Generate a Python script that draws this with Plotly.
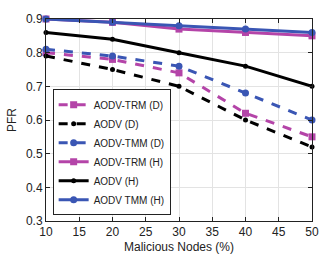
import plotly.graph_objects as go

x = [10, 20, 30, 40, 50]
trm_d = [0.80, 0.78, 0.74, 0.62, 0.55]
aodv_d = [0.79, 0.75, 0.70, 0.60, 0.52]
tmm_d = [0.81, 0.79, 0.76, 0.68, 0.60]
trm_h = [0.90, 0.89, 0.87, 0.86, 0.85]
aodv_h = [0.86, 0.84, 0.80, 0.76, 0.70]
tmm_h = [0.90, 0.89, 0.88, 0.87, 0.86]

MAG = "#b444a8"
BLU = "#3a56b4"
BLK = "#000000"

series = [
    ("AODV-TRM (D)", trm_d, MAG, "dash", "square"),
    ("AODV (D)", aodv_d, BLK, "dash", "circle"),
    ("AODV-TMM (D)", tmm_d, BLU, "dash", "circle"),
    ("AODV-TRM (H)", trm_h, MAG, "solid", "square"),
    ("AODV (H)", aodv_h, BLK, "solid", "circle"),
    ("AODV TMM (H)", tmm_h, BLU, "solid", "circle"),
]

fig = go.Figure()
for name, y, c, d, sym in series:
    msize = 7 if c != BLK else 5
    fig.add_trace(go.Scatter(x=x, y=y, name=name, mode="lines+markers",
                             line=dict(color=c, width=3, dash=d),
                             marker=dict(color=c, size=msize, symbol=sym),
                             cliponaxis=False))

ax = dict(showline=True, linecolor="#222", linewidth=1, mirror="ticks",
          ticks="inside", ticklen=4, tickcolor="#222",
          gridcolor="#e3e3e3", gridwidth=1, zeroline=False,
          tickfont=dict(size=12, color="#222"))
fig.update_layout(
    width=331, height=264,
    margin=dict(l=43, r=14, t=12, b=36),
    paper_bgcolor="white", plot_bgcolor="white",
    font=dict(family="Liberation Sans, Arial", color="#222"),
    xaxis=dict(range=[10, 50], dtick=5,
               title=dict(text="Malicious Nodes (%)", font=dict(size=12), standoff=4), **ax),
    yaxis=dict(range=[0.3, 0.9], dtick=0.1, tickformat=".1f",
               title=dict(text="PFR", font=dict(size=12), standoff=6), **ax),
    legend=dict(x=0.025, y=0.028, xanchor="left", yanchor="bottom",
                bgcolor="white", bordercolor="#222", borderwidth=1,
                font=dict(size=10), tracegroupgap=0, itemwidth=30),
    showlegend=True,
)
fig.write_html("out.html", config={"displayModeBar": False},
               post_script="document.body.style.margin='0';document.body.style.overflow='hidden';")
